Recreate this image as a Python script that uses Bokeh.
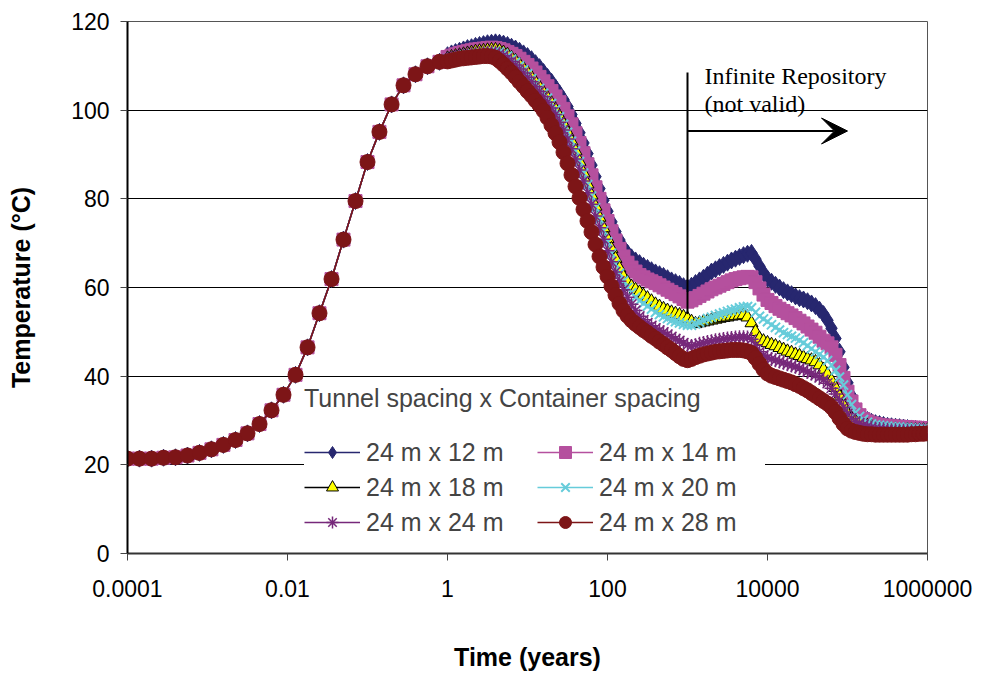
from bokeh.plotting import figure
from bokeh.models import (Range1d, FixedTicker, Legend, LegendItem, Arrow, VeeHead,
                          Label)
from bokeh.embed import file_html
from bokeh.resources import INLINE

# ---------------- data ----------------
years_early = [0.0001, 0.000141, 0.0002, 0.000282, 0.000398, 0.000562, 0.000794,
               0.00112, 0.00158, 0.00224, 0.00316, 0.00447, 0.00631, 0.00891,
               0.0126, 0.0178, 0.0251, 0.0355, 0.0501, 0.0708, 0.1, 0.141, 0.2,
               0.282, 0.398, 0.562, 0.794]
years_late = [1, 1.122, 1.259, 1.413, 1.585, 1.778, 1.995, 2.239, 2.512, 2.818,
              3.162, 3.548, 3.981, 4.467, 5.012, 5.623, 6.310, 7.079, 7.943, 8.913,
              10, 11.22, 12.59, 14.13, 15.85, 17.78, 19.95, 22.39, 25.12, 28.18,
              31.62, 35.48, 39.81, 44.67, 50.12, 56.23, 63.10, 70.79, 79.43, 89.13,
              100, 112.2, 125.9, 141.3, 158.5, 177.8, 199.5, 223.9, 251.2, 281.8,
              316.2, 354.8, 398.1, 446.7, 501.2, 562.3, 631.0, 707.9, 794.3, 891.3,
              1000, 1122, 1259, 1413, 1585, 1778, 1995, 2239, 2512, 2818,
              3162, 3548, 3981, 4467, 5012, 5623, 6310, 7079, 7943, 8913,
              10000, 11220, 12589, 14125, 15849, 17783, 19953, 22387, 25119, 28184,
              31623, 35481, 39811, 44668, 50119, 56234, 63096, 70795, 79433, 89125,
              100000, 112202, 125893, 141254, 158489, 177828, 199526, 223872, 251189, 281838,
              316228, 354813, 398107, 446684, 501187, 562341, 630957, 707946, 794328, 891251,
              1000000]
years = years_early + years_late

temp_early = [21.4, 21.4, 21.4, 21.6, 21.7, 22.1, 22.7, 23.5, 24.5, 25.6, 27.1, 29.2,
              32.3, 35.8, 40.3, 46.5, 54.2, 61.9, 70.8, 79.5, 88.3, 95.1, 101.3,
              105.6, 108.1, 109.9, 110.9]

t_24x12 = [112.4, 112.8, 113.1, 113.4, 113.7, 114.0, 114.2, 114.5, 114.7, 114.9,
           115.1, 115.2, 115.3, 115.2, 115.0, 114.7, 114.3, 113.9, 113.4, 112.8,
           112.2, 111.5, 110.6, 109.7, 108.6, 107.5, 106.4, 105.1, 103.8, 102.4,
           100.8, 99.0, 97.0, 94.9, 92.6, 90.2, 87.6, 85.0, 82.3, 79.7,
           77.2, 74.8, 72.6, 70.7, 69.0, 67.8, 66.8, 66.1, 65.5, 64.9,
           64.4, 63.9, 63.4, 63.0, 62.6, 62.1, 61.6, 61.2, 60.8, 60.3,
           60.0, 60.4, 61.0, 61.6, 62.2, 62.9, 63.6, 64.1, 64.6, 65.1,
           65.6, 66.1, 66.5, 66.9, 67.3, 67.6, 67.8, 66.4, 64.8, 63.3,
           62.0, 61.3, 60.6, 60.0, 59.4, 58.9, 58.5, 58.0, 57.6, 57.3,
           56.9, 56.4, 55.8, 55.0, 54.0, 52.6, 50.8, 48.5, 45.5, 42.0,
           38.5, 35.5, 33.0, 31.6, 30.6, 30.1, 29.7, 29.4, 29.2, 29.0,
           28.8, 28.7, 28.6, 28.5, 28.4, 28.3, 28.2, 28.1, 28.0, 28.0,
           27.9]
t_24x14 = [112.0, 112.3, 112.6, 112.9, 113.1, 113.3, 113.5, 113.7, 113.8, 113.9,
           114.0, 114.1, 114.0, 113.8, 113.5, 113.1, 112.7, 112.2, 111.6, 110.9,
           110.2, 109.4, 108.5, 107.5, 106.5, 105.4, 104.3, 103.1, 101.8, 100.3,
           98.6, 96.8, 94.8, 92.6, 90.3, 87.8, 85.3, 82.6, 80.0, 77.4,
           75.0, 72.7, 70.6, 68.7, 67.0, 65.6, 64.5, 63.6, 62.8, 62.3,
           61.8, 61.4, 61.0, 60.5, 60.0, 59.5, 59.0, 58.5, 58.0, 57.4,
           56.8, 57.1, 57.6, 58.1, 58.6, 59.1, 59.6, 60.0, 60.4, 60.8,
           61.2, 61.6, 61.9, 62.1, 62.3, 62.4, 62.3, 61.2, 59.8, 58.4,
           57.2, 56.5, 55.8, 55.2, 54.7, 54.2, 53.7, 53.1, 52.5, 51.9,
           51.2, 50.5, 49.8, 48.9, 48.0, 47.4, 46.5, 44.8, 42.5, 39.6,
           36.5, 34.3, 32.5, 31.2, 30.3, 29.8, 29.4, 29.2, 29.0, 28.9,
           28.8, 28.7, 28.6, 28.6, 28.5, 28.5, 28.4, 28.4, 28.3, 28.3,
           28.2]
t_24x18 = [111.7, 112.0, 112.2, 112.4, 112.6, 112.8, 113.0, 113.2, 113.3, 113.4,
           113.5, 113.6, 113.6, 113.4, 113.0, 112.5, 111.8, 111.1, 110.3, 109.4,
           108.5, 107.4, 106.3, 105.2, 104.0, 102.8, 101.6, 100.2, 98.6, 96.9,
           95.0, 93.0, 90.8, 88.4, 85.8, 83.3, 80.8, 78.3, 75.8, 73.4,
           71.0, 68.7, 66.5, 64.3, 62.4, 61.2, 60.2, 59.5, 58.9, 58.2,
           57.6, 56.9, 56.2, 55.7, 55.2, 54.8, 54.4, 54.1, 53.8, 53.4,
           53.0, 52.3, 51.8, 52.0, 52.2, 52.4, 52.6, 52.8, 53.0, 53.2,
           53.3, 53.5, 53.6, 53.7, 53.8, 53.3, 52.0, 50.0, 48.5, 47.9,
           47.5, 47.1, 46.8, 46.4, 46.0, 45.6, 45.3, 44.9, 44.6, 44.2,
           43.9, 43.6, 43.2, 42.5, 41.5, 40.4, 39.0, 37.4, 35.5, 33.4,
           31.5, 30.5, 29.8, 29.4, 29.0, 28.8, 28.6, 28.4, 28.3, 28.2,
           28.1, 28.0, 28.0, 27.9, 27.9, 27.9, 27.9, 27.8, 27.8, 27.8,
           27.8]
t_24x20 = [111.6, 111.9, 112.1, 112.3, 112.5, 112.7, 112.8, 112.9, 113.0, 113.1,
           113.2, 113.3, 113.3, 113.1, 112.7, 112.2, 111.5, 110.8, 110.0, 109.1,
           108.2, 107.1, 106.0, 104.9, 103.8, 102.7, 101.5, 100.1, 98.5, 96.8,
           95.0, 93.0, 90.8, 88.4, 85.8, 83.2, 80.6, 78.0, 75.4, 72.8,
           70.3, 67.7, 65.3, 63.2, 61.5, 60.0, 58.8, 57.8, 57.0, 56.4,
           55.8, 55.1, 54.4, 53.9, 53.4, 53.0, 52.6, 52.3, 52.0, 51.7,
           51.5, 51.5, 51.8, 52.2, 52.6, 53.0, 53.3, 53.7, 54.0, 54.3,
           54.6, 54.9, 55.1, 55.4, 55.6, 55.7, 55.4, 54.4, 53.5, 52.9,
           52.3, 51.6, 51.0, 50.4, 49.8, 49.4, 49.0, 48.6, 48.1, 47.5,
           46.9, 46.2, 45.5, 44.9, 44.3, 43.5, 42.5, 41.3, 39.8, 38.0,
           35.8, 33.6, 31.8, 30.9, 30.2, 29.6, 29.2, 29.0, 28.9, 28.8,
           28.7, 28.6, 28.5, 28.5, 28.4, 28.4, 28.3, 28.3, 28.2, 28.2,
           28.1]
t_24x24 = [111.5, 111.8, 112.0, 112.2, 112.4, 112.6, 112.7, 112.8, 112.9, 113.0,
           113.0, 113.1, 113.0, 112.7, 112.3, 111.7, 111.0, 110.2, 109.3, 108.4,
           107.4, 106.4, 105.3, 104.2, 103.0, 101.8, 100.5, 99.0, 97.3, 95.5,
           93.5, 91.3, 89.0, 86.5, 84.0, 81.4, 78.8, 76.1, 73.5, 70.9,
           68.3, 65.8, 63.5, 61.4, 59.5, 57.8, 56.2, 54.8, 53.5, 52.7,
           52.0, 51.4, 50.8, 50.3, 49.9, 49.4, 48.9, 48.4, 48.0, 47.5,
           47.0, 46.8, 47.0, 47.3, 47.5, 47.7, 47.9, 48.1, 48.2, 48.4,
           48.5, 48.6, 48.7, 48.8, 48.8, 48.7, 48.3, 47.0, 45.5, 44.7,
           44.2, 43.9, 43.6, 43.3, 43.0, 42.7, 42.4, 42.1, 41.8, 41.4,
           41.0, 40.6, 40.2, 39.7, 39.2, 38.4, 37.3, 36.0, 34.5, 33.0,
           31.5, 30.5, 29.8, 29.4, 29.0, 28.7, 28.4, 28.2, 28.1, 28.0,
           27.9, 27.8, 27.8, 27.7, 27.7, 27.7, 27.6, 27.6, 27.6, 27.6,
           27.6]
t_24x28 = [111.0, 111.2, 111.4, 111.6, 111.7, 111.8, 111.9, 112.0, 112.1, 112.2,
           112.2, 112.1, 111.8, 111.1, 110.3, 109.4, 108.5, 107.5, 106.4, 105.4,
           104.3, 103.3, 102.2, 101.1, 99.9, 98.3, 96.6, 94.8, 92.8, 90.5,
           88.0, 85.4, 82.8, 80.2, 77.6, 75.0, 72.5, 69.7, 67.0, 64.6,
           62.5, 60.3, 58.3, 56.4, 54.8, 53.6, 52.6, 51.8, 51.1, 50.4,
           49.8, 49.1, 48.5, 47.8, 47.2, 46.5, 45.9, 45.2, 44.5, 43.9,
           43.6, 43.9, 44.3, 44.6, 44.9, 45.1, 45.3, 45.5, 45.6, 45.7,
           45.8, 45.9, 45.9, 45.9, 45.8, 45.6, 45.2, 44.1, 42.8, 41.5,
           40.6, 40.1, 39.8, 39.5, 39.2, 38.9, 38.6, 38.2, 37.8, 37.3,
           36.8, 36.2, 35.6, 35.0, 34.4, 33.8, 33.0, 31.9, 30.5, 29.2,
           28.2, 27.7, 27.4, 27.2, 27.0, 26.9, 26.9, 26.8, 26.8, 26.8,
           26.8, 26.8, 26.8, 26.8, 26.8, 26.8, 26.9, 26.9, 27.0, 27.0,
           27.1]

series_labels = ["24 m x 12 m", "24 m x 14 m", "24 m x 18 m",
                 "24 m x 20 m", "24 m x 24 m", "24 m x 28 m"]
series_values = [t_24x12, t_24x14, t_24x18, t_24x20, t_24x24, t_24x28]

x_ticks = [0.0001, 0.01, 1, 100, 10000, 1000000]
x_tick_labels = ["0.0001", "0.01", "1", "100", "10000", "1000000"]
y_ticks = [0, 20, 40, 60, 80, 100, 120]

legend_title = "Tunnel spacing x Container spacing"
note_lines = ["Infinite Repository", "(not valid)"]
repo_time = 1000          # start of "infinite repository" region
repo_line_low, repo_line_high = 54, 108.5
arrow_end_time, arrow_temp = 100000, 95.3
note_time, note_temps = 1632, [107.8, 101.5]

# ---------------- styles ----------------
styles = [
    dict(marker="diamond", size=17, color="#27276F", fill="#27276F", lw=1),
    dict(marker="square", size=13, color="#B5509E", fill="#B5509E", lw=1),
    dict(marker="triangle", size=13, color="#000000", fill="#FFFF00", lw=1),
    dict(marker="x", size=13, color="#66CCDA", fill="#66CCDA", lw=2),
    dict(marker="asterisk", size=14, color="#76287A", fill="#76287A", lw=1.5),
    dict(marker="circle", size=15, color="#7D1517", fill="#7D1517", lw=1),
]

W, H = 976, 674
FL, FR, FT, FB = 127, 927, 21, 553   # frame edges on the page
p = figure(width=W, height=H, x_axis_type="log",
           x_range=Range1d(1e-4, 1e6), y_range=Range1d(0, 120),
           output_backend="svg", toolbar_location=None,
           min_border_left=FL, min_border_right=W - FR,
           min_border_top=FT, min_border_bottom=H - FB)
p.background_fill_color = "white"
p.border_fill_color = "white"
p.outline_line_color = "#555555"
p.outline_line_width = 1

items = []
for lab, vals, st in zip(series_labels, series_values, styles):
    temps = temp_early + vals
    ln = p.line(years, temps, line_color=st["color"], line_width=1.5)
    sc = p.scatter(years, temps, marker=st["marker"], size=st["size"],
                   fill_color=st["fill"], line_color=st["color"],
                   line_width=st["lw"])
    items.append(LegendItem(label=lab, renderers=[ln, sc]))

# axes
FONT = "Liberation Sans"
xa = p.xaxis[0]
xa.ticker = FixedTicker(ticks=x_ticks)
xa.major_label_overrides = {t: s for t, s in zip(x_ticks, x_tick_labels)}
xa.axis_label = "Time (years)"
ya = p.yaxis[0]
ya.ticker = FixedTicker(ticks=y_ticks)
ya.axis_label = "Temperature (°C)"
for ax in (xa, ya):
    ax.major_label_text_font = FONT
    ax.major_label_text_font_size = "23px"
    ax.major_label_text_color = "black"
    ax.axis_label_text_font = FONT
    ax.axis_label_text_font_size = "25px"
    ax.axis_label_text_font_style = "bold"
    ax.axis_label_text_color = "black"
    ax.minor_tick_line_color = None
    ax.major_tick_in = 0
    ax.major_tick_out = 7
    ax.major_tick_line_color = "#444444"
    ax.axis_line_width = 2
xa.axis_line_color = "#333333"
ya.axis_line_color = "black"
xa.major_label_standoff = 19
xa.axis_label_standoff = 43
ya.major_label_standoff = 11
ya.axis_label_standoff = 33

p.xgrid.grid_line_color = None
p.ygrid.grid_line_color = "black"
p.ygrid.grid_line_width = 1

# legend
legend = Legend(items=items, location=(177, 16), orientation="horizontal", ncols=2,
                title=legend_title)
legend.title_text_font = FONT
legend.title_text_font_size = "25px"
legend.title_text_font_style = "normal"
legend.title_standoff = 24
legend.label_text_font = FONT
legend.label_text_font_size = "25px"
legend.glyph_width = 56
legend.glyph_height = 30
legend.label_height = 30
legend.label_width = 166
legend.label_standoff = 6
legend.spacing = 5
legend.padding = 8
legend.margin = 0
legend.border_line_color = None
legend.background_fill_color = "white"
legend.background_fill_alpha = 1.0
p.add_layout(legend, "center")

# annotation
p.add_layout(Arrow(end=None, x_start=repo_time, y_start=repo_line_low,
                   x_end=repo_time, y_end=repo_line_high,
                   line_color="black", line_width=2))
p.add_layout(Arrow(end=VeeHead(size=26, fill_color="black", line_color="black"),
                   x_start=repo_time, y_start=arrow_temp,
                   x_end=arrow_end_time, y_end=arrow_temp,
                   line_color="black", line_width=2))
for txt, ty in zip(note_lines, note_temps):
    p.add_layout(Label(x=note_time, y=ty, text=txt, text_font="Liberation Serif",
                       text_font_size="24px", text_color="black",
                       text_baseline="alphabetic"))

open("out.html", "w").write(file_html(p, INLINE))
